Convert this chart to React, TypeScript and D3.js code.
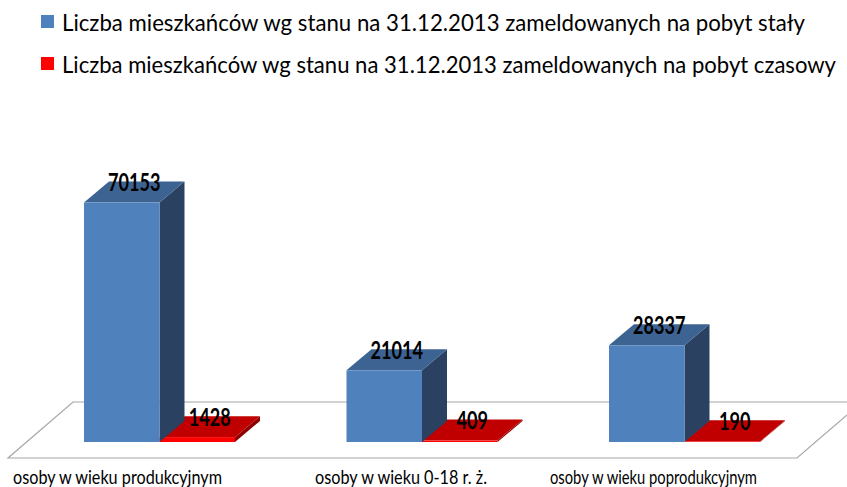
import React from "react";
import * as d3 from "d3";

const categories = [
  "osoby w wieku produkcyjnym",
  "osoby w wieku 0-18 r. ż.",
  "osoby w wieku poprodukcyjnym",
];
const seriesNames = [
  "Liczba mieszkańców wg stanu na 31.12.2013 zameldowanych na pobyt stały",
  "Liczba mieszkańców wg stanu na 31.12.2013 zameldowanych na pobyt czasowy",
];
const staly = [70153, 21014, 28337];
const czasowy = [1428, 409, 190];

const W = 847;
const H = 487;
const FONT = "Lato, 'Open Sans', sans-serif";

const palettes = [
  { front: "#4F81BD", top: "#3D6393", side: "#2A4161" },
  { front: "#FF0000", top: "#C00000", side: "#8E0000" },
];

export default function App() {
  const series = [staly, czasowy];
  const baseY = 442;
  const y = d3.scaleLinear().domain([0, 80000]).range([baseY, 169]);
  const x = d3
    .scaleBand<string>()
    .domain(categories)
    .range([28.25, 815.75])
    .paddingInner(0.4248)
    .paddingOuter(0.2124);
  const xs = d3
    .scaleBand<number>()
    .domain([0, 1])
    .range([0, x.bandwidth()]);
  const dx = 25;
  const dy = 21;

  const floorFront = 458;
  const floorBack = 402;
  const floorPath = `M8,${floorFront} L797,${floorFront} L862,${floorBack} L73,${floorBack} Z`;

  const labelStart = [13, 315, 550];
  const labelLen = [209, 172, 207];
  const legendLen = [743, 774];

  const bars: JSX.Element[] = [];
  const labels: JSX.Element[] = [];
  categories.forEach((c, ci) => {
    [1, 0].forEach((si) => {
      const v = series[si][ci];
      const x0 = (x(c) as number) + (xs(si) as number);
      const w = xs.bandwidth();
      const yt = y(v);
      const p = palettes[si];
      bars.push(
        <g key={`b-${ci}-${si}`}>
          <path
            d={`M${x0 + w},${baseY} L${x0 + w + dx},${baseY - dy} L${x0 + w + dx},${yt - dy} L${x0 + w},${yt} Z`}
            fill={p.side}
          />
          <path
            d={`M${x0},${yt} L${x0 + w},${yt} L${x0 + w + dx},${yt - dy} L${x0 + dx},${yt - dy} Z`}
            fill={p.top}
          />
          <rect x={x0} y={yt} width={w} height={baseY - yt} fill={p.front} />
        </g>
      );
      const cx = x0 + w / 2 + dx / 2;
      const cy = yt - dy / 2;
      const txt = String(v);
      labels.push(
        <text
          key={`l-${ci}-${si}`}
          x={cx}
          y={cy - 1}
          textAnchor="middle"
          fontFamily={FONT}
          fontWeight="bold"
          fontSize={25}
          fill="#000"
          textLength={txt.length * 10.5}
          lengthAdjust="spacingAndGlyphs"
        >
          {txt}
        </text>
      );
    });
  });

  return (
    <svg
      width={W}
      height={H}
      style={{ position: "absolute", left: 0, top: 0, background: "#fff" }}
    >
      <rect x={0} y={0} width={W} height={H} fill="#fff" />
      {seriesNames.map((s, i) => (
        <g key={`lg-${i}`}>
          <rect x={41} y={15 + i * 42} width={13} height={13} fill={palettes[i].front} />
          <text
            x={62}
            y={31 + i * 42}
            fontFamily={FONT}
            fontSize={23}
            fill="#000"
            textLength={legendLen[i]}
            lengthAdjust="spacingAndGlyphs"
          >
            {s}
          </text>
        </g>
      ))}
      <path d={floorPath} fill="#fff" stroke="#A6A6A6" strokeWidth={1.2} />
      {bars}
      {labels}
      {categories.map((c, i) => (
        <text
          key={`c-${i}`}
          x={labelStart[i]}
          y={484}
          fontFamily={FONT}
          fontSize={20}
          fill="#000"
          textLength={labelLen[i]}
          lengthAdjust="spacingAndGlyphs"
        >
          {c}
        </text>
      ))}
    </svg>
  );
}
